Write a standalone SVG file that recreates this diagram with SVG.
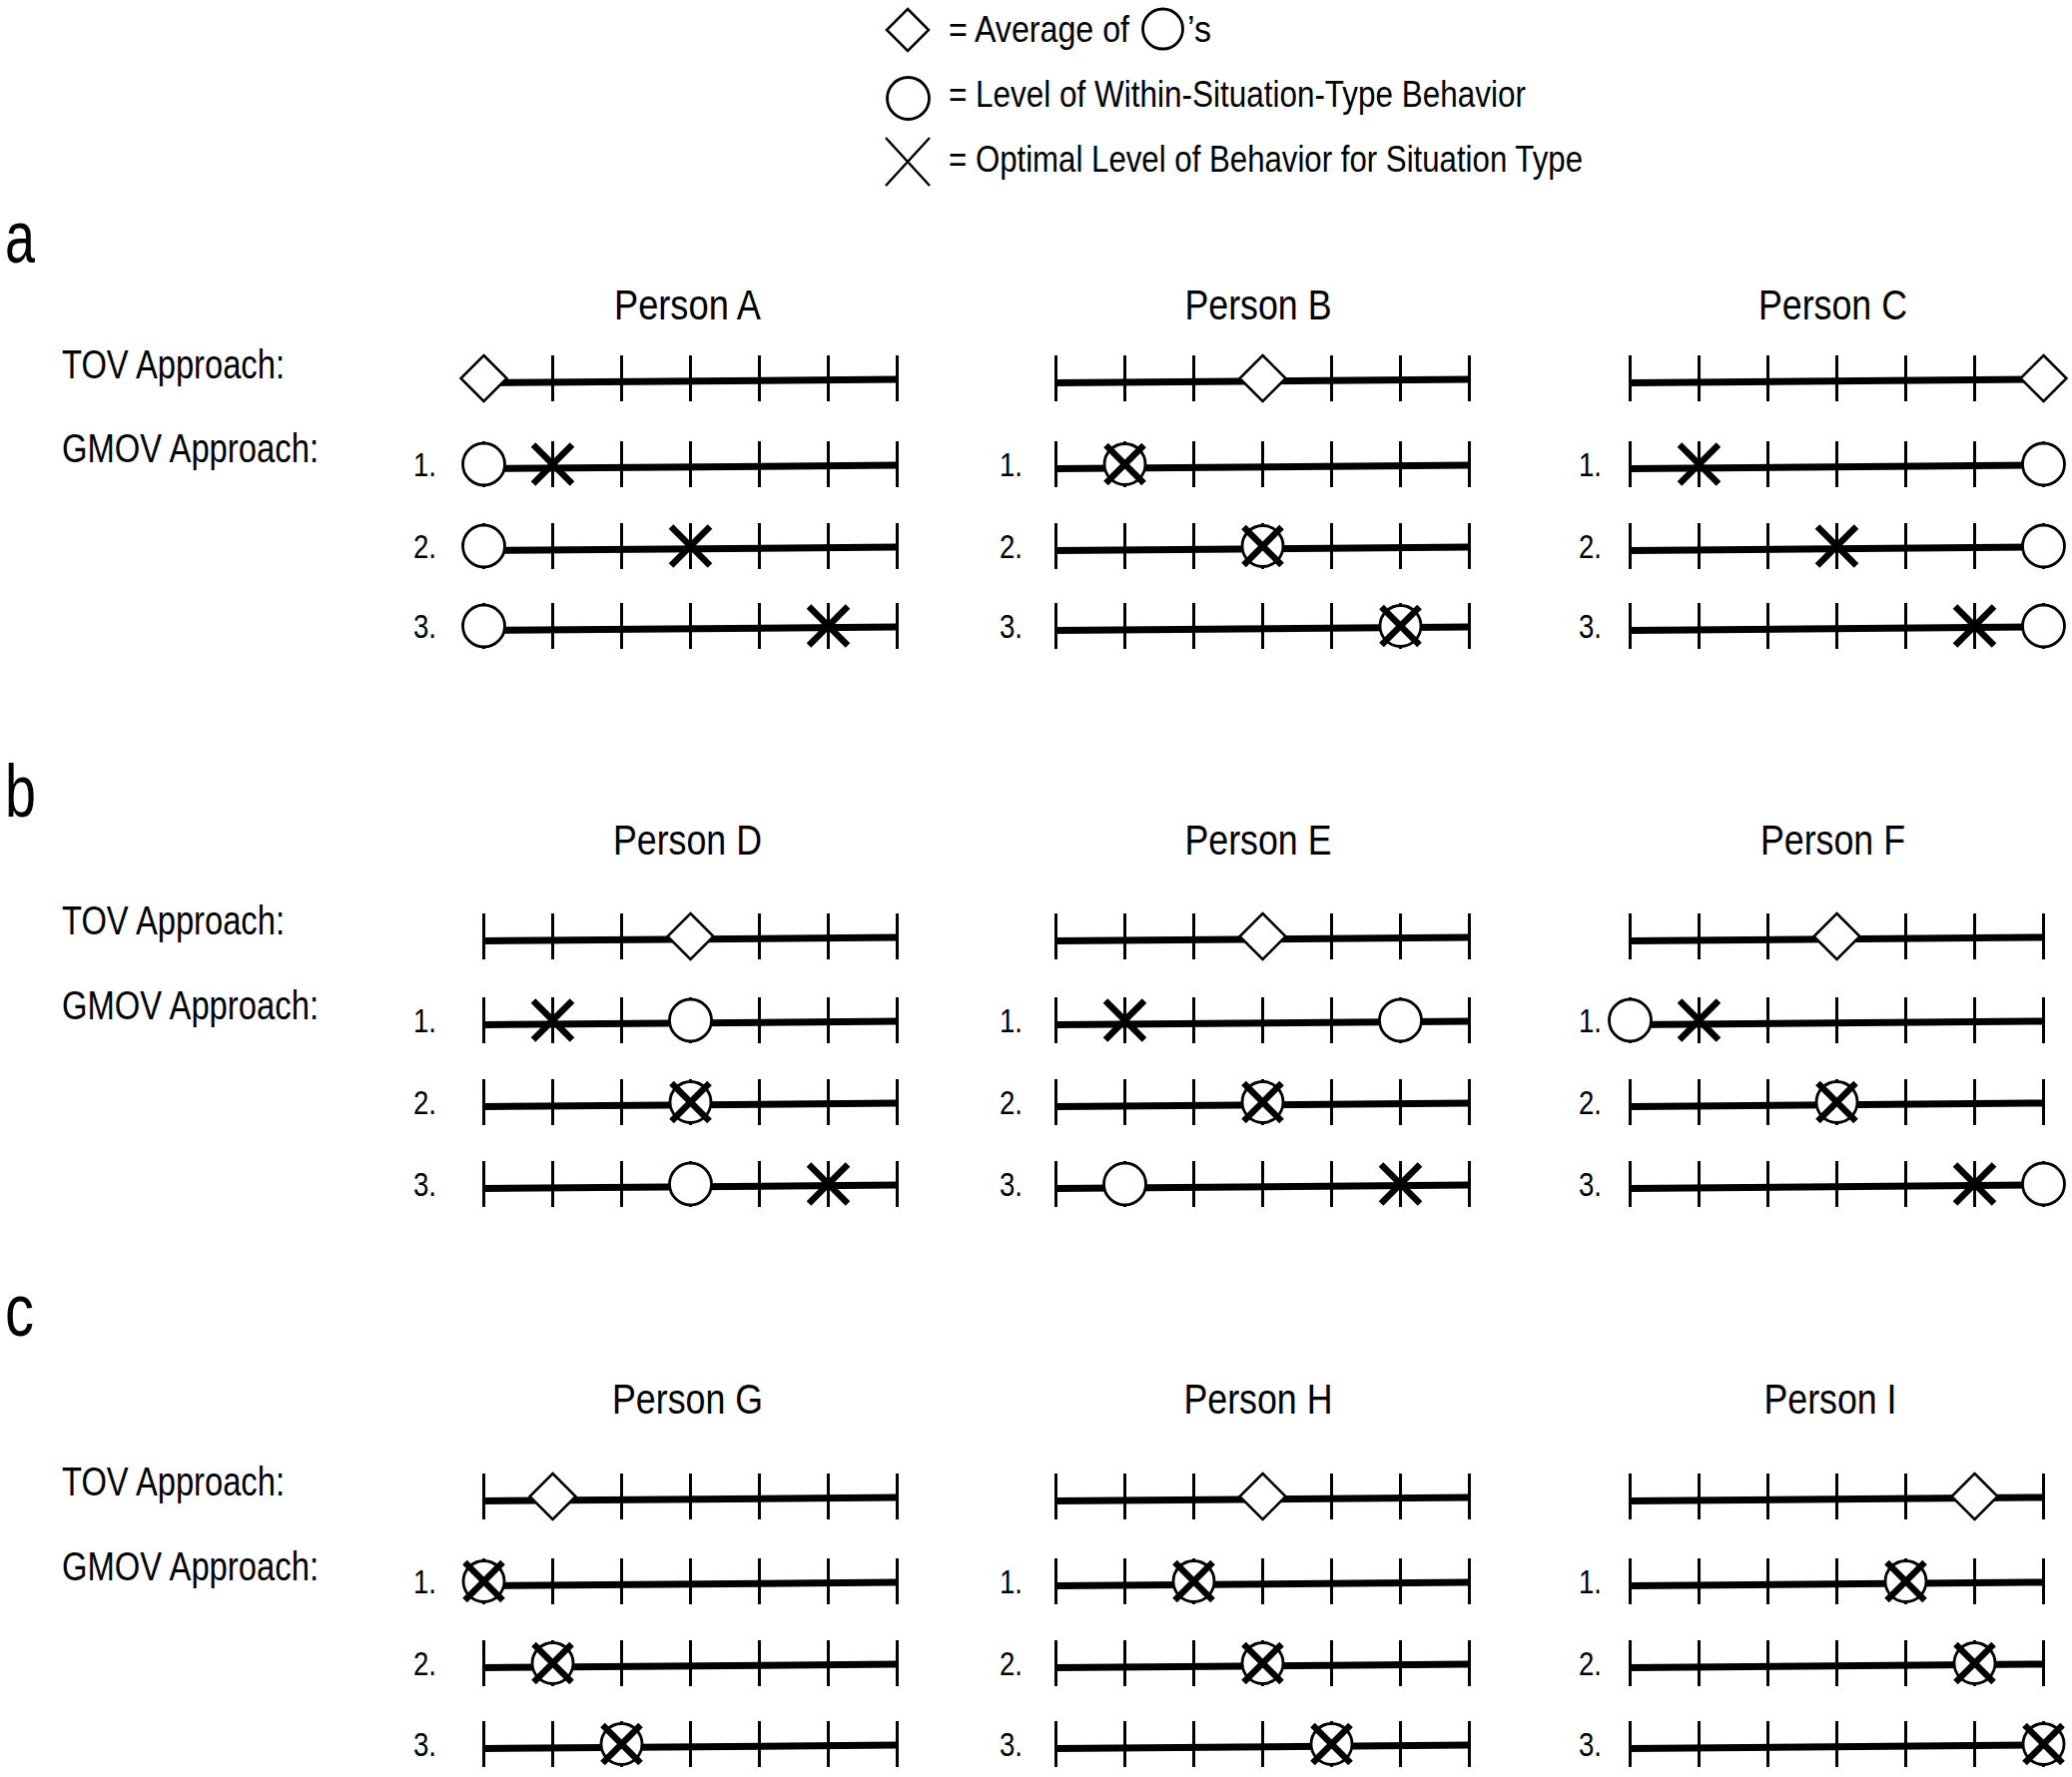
<svg xmlns="http://www.w3.org/2000/svg" xmlns:xlink="http://www.w3.org/1999/xlink" width="2075" height="1780" viewBox="0 0 2075 1780">
<style>
text{font-family:"Liberation Sans Narrow","Liberation Sans",Arial,sans-serif;fill:#000}
.leg{font-size:37.5px}
.ttl{font-size:43px;text-anchor:middle}
.lab{font-size:40px}
.num{font-size:33px}
.sec{font-size:74px}
.axl{fill:none;stroke:#000;stroke-width:7}
.tk{fill:none;stroke:#000;stroke-width:3}
.circ{fill:#fff;stroke:#000;stroke-width:2.8}
.dia{fill:#fff;stroke:#000;stroke-width:2.5}
.xm{fill:none;stroke:#000;stroke-width:6.5}
.xl{fill:none;stroke:#000;stroke-width:2.5}
</style>
<defs>
<g id="axis">
<path class="axl" d="M0,4.5 L414,1"/>
<path class="tk" d="M0,-23V23M69,-23V23M138,-23V23M207,-23V23M276,-23V23M345,-23V23M414,-23V23"/>
</g>
<circle id="C" class="circ" r="21"/>
<polygon id="D" class="dia" points="0,-23 23,0 0,23 -23,0"/>
<path id="X" class="xm" d="M-19.5,-19.5L19.5,19.5M19.5,-19.5L-19.5,19.5"/>
<g id="CX"><circle class="circ" r="20.5"/><path class="xm" d="M-19,-19L19,19M19,-19L-19,19"/></g>
</defs>

<g id="legend">
<polygon class="dia" points="909,9 930,30 909,51 888,30"/>
<text class="leg" x="950" y="42" textLength="181" lengthAdjust="spacingAndGlyphs">= Average of</text>
<circle class="circ" cx="1164.5" cy="29" r="20"/>
<text class="leg" x="1189" y="42" textLength="24" lengthAdjust="spacingAndGlyphs">’s</text>
<circle class="circ" cx="909.5" cy="98.5" r="21"/>
<text class="leg" x="950" y="107" textLength="578" lengthAdjust="spacingAndGlyphs">= Level of Within-Situation-Type Behavior</text>
<path class="xl" d="M887,138L931,186M931,138L887,186"/>
<text class="leg" x="950" y="172" textLength="635" lengthAdjust="spacingAndGlyphs">= Optimal Level of Behavior for Situation Type</text>
</g>

<g id="section-labels">
<text class="sec" x="5" y="263" textLength="30" lengthAdjust="spacingAndGlyphs">a</text>
<text class="sec" x="5" y="818" textLength="31" lengthAdjust="spacingAndGlyphs">b</text>
<text class="sec" x="5" y="1338" textLength="29" lengthAdjust="spacingAndGlyphs">c</text>
<text class="lab" x="62" y="379" textLength="223" lengthAdjust="spacingAndGlyphs">TOV Approach:</text>
<text class="lab" x="62" y="463" textLength="257" lengthAdjust="spacingAndGlyphs">GMOV Approach:</text>
<text class="lab" x="62" y="936" textLength="223" lengthAdjust="spacingAndGlyphs">TOV Approach:</text>
<text class="lab" x="62" y="1021" textLength="257" lengthAdjust="spacingAndGlyphs">GMOV Approach:</text>
<text class="lab" x="62" y="1498" textLength="223" lengthAdjust="spacingAndGlyphs">TOV Approach:</text>
<text class="lab" x="62" y="1583" textLength="257" lengthAdjust="spacingAndGlyphs">GMOV Approach:</text>
</g>

<!-- Section a -->
<g id="personA">
<text class="ttl" x="688.5" y="320" textLength="147" lengthAdjust="spacingAndGlyphs">Person A</text>
<use xlink:href="#axis" x="484.5" y="379"/>
<use xlink:href="#axis" x="484.5" y="465"/>
<use xlink:href="#axis" x="484.5" y="547"/>
<use xlink:href="#axis" x="484.5" y="627"/>
<text class="num" x="414" y="477" textLength="23" lengthAdjust="spacingAndGlyphs">1.</text>
<text class="num" x="414" y="559" textLength="23" lengthAdjust="spacingAndGlyphs">2.</text>
<text class="num" x="414" y="639" textLength="23" lengthAdjust="spacingAndGlyphs">3.</text>
<use xlink:href="#D" x="484.5" y="379"/>
<use xlink:href="#C" x="484.5" y="465"/><use xlink:href="#X" x="553.5" y="465"/>
<use xlink:href="#C" x="484.5" y="547"/><use xlink:href="#X" x="691.5" y="547"/>
<use xlink:href="#C" x="484.5" y="627"/><use xlink:href="#X" x="829.5" y="627"/>
</g>
<g id="personB">
<text class="ttl" x="1260" y="320" textLength="147" lengthAdjust="spacingAndGlyphs">Person B</text>
<use xlink:href="#axis" x="1057.5" y="379"/>
<use xlink:href="#axis" x="1057.5" y="465"/>
<use xlink:href="#axis" x="1057.5" y="547"/>
<use xlink:href="#axis" x="1057.5" y="627"/>
<text class="num" x="1001" y="477" textLength="23" lengthAdjust="spacingAndGlyphs">1.</text>
<text class="num" x="1001" y="559" textLength="23" lengthAdjust="spacingAndGlyphs">2.</text>
<text class="num" x="1001" y="639" textLength="23" lengthAdjust="spacingAndGlyphs">3.</text>
<use xlink:href="#D" x="1264.5" y="379"/>
<use xlink:href="#CX" x="1126.5" y="465"/>
<use xlink:href="#CX" x="1264.5" y="547"/>
<use xlink:href="#CX" x="1402.5" y="627"/>
</g>
<g id="personC">
<text class="ttl" x="1835.5" y="320" textLength="149" lengthAdjust="spacingAndGlyphs">Person C</text>
<use xlink:href="#axis" x="1632.5" y="379"/>
<use xlink:href="#axis" x="1632.5" y="465"/>
<use xlink:href="#axis" x="1632.5" y="547"/>
<use xlink:href="#axis" x="1632.5" y="627"/>
<text class="num" x="1581" y="477" textLength="23" lengthAdjust="spacingAndGlyphs">1.</text>
<text class="num" x="1581" y="559" textLength="23" lengthAdjust="spacingAndGlyphs">2.</text>
<text class="num" x="1581" y="639" textLength="23" lengthAdjust="spacingAndGlyphs">3.</text>
<use xlink:href="#D" x="2046.5" y="379"/>
<use xlink:href="#X" x="1701.5" y="465"/><use xlink:href="#C" x="2046.5" y="465"/>
<use xlink:href="#X" x="1839.5" y="547"/><use xlink:href="#C" x="2046.5" y="547"/>
<use xlink:href="#X" x="1977.5" y="627"/><use xlink:href="#C" x="2046.5" y="627"/>
</g>

<!-- Section b -->
<g id="personD">
<text class="ttl" x="688.5" y="856" textLength="149" lengthAdjust="spacingAndGlyphs">Person D</text>
<use xlink:href="#axis" x="484.5" y="938"/>
<use xlink:href="#axis" x="484.5" y="1022"/>
<use xlink:href="#axis" x="484.5" y="1104"/>
<use xlink:href="#axis" x="484.5" y="1186"/>
<text class="num" x="414" y="1034" textLength="23" lengthAdjust="spacingAndGlyphs">1.</text>
<text class="num" x="414" y="1116" textLength="23" lengthAdjust="spacingAndGlyphs">2.</text>
<text class="num" x="414" y="1198" textLength="23" lengthAdjust="spacingAndGlyphs">3.</text>
<use xlink:href="#D" x="691.5" y="938"/>
<use xlink:href="#X" x="553.5" y="1022"/><use xlink:href="#C" x="691.5" y="1022"/>
<use xlink:href="#CX" x="691.5" y="1104"/>
<use xlink:href="#C" x="691.5" y="1186"/><use xlink:href="#X" x="829.5" y="1186"/>
</g>
<g id="personE">
<text class="ttl" x="1260" y="856" textLength="147" lengthAdjust="spacingAndGlyphs">Person E</text>
<use xlink:href="#axis" x="1057.5" y="938"/>
<use xlink:href="#axis" x="1057.5" y="1022"/>
<use xlink:href="#axis" x="1057.5" y="1104"/>
<use xlink:href="#axis" x="1057.5" y="1186"/>
<text class="num" x="1001" y="1034" textLength="23" lengthAdjust="spacingAndGlyphs">1.</text>
<text class="num" x="1001" y="1116" textLength="23" lengthAdjust="spacingAndGlyphs">2.</text>
<text class="num" x="1001" y="1198" textLength="23" lengthAdjust="spacingAndGlyphs">3.</text>
<use xlink:href="#D" x="1264.5" y="938"/>
<use xlink:href="#X" x="1126.5" y="1022"/><use xlink:href="#C" x="1402.5" y="1022"/>
<use xlink:href="#CX" x="1264.5" y="1104"/>
<use xlink:href="#C" x="1126.5" y="1186"/><use xlink:href="#X" x="1402.5" y="1186"/>
</g>
<g id="personF">
<text class="ttl" x="1835.5" y="856" textLength="145" lengthAdjust="spacingAndGlyphs">Person F</text>
<use xlink:href="#axis" x="1632.5" y="938"/>
<use xlink:href="#axis" x="1632.5" y="1022"/>
<use xlink:href="#axis" x="1632.5" y="1104"/>
<use xlink:href="#axis" x="1632.5" y="1186"/>
<text class="num" x="1581" y="1034" textLength="23" lengthAdjust="spacingAndGlyphs">1.</text>
<text class="num" x="1581" y="1116" textLength="23" lengthAdjust="spacingAndGlyphs">2.</text>
<text class="num" x="1581" y="1198" textLength="23" lengthAdjust="spacingAndGlyphs">3.</text>
<use xlink:href="#D" x="1839.5" y="938"/>
<use xlink:href="#C" x="1632.5" y="1022"/><use xlink:href="#X" x="1701.5" y="1022"/>
<use xlink:href="#CX" x="1839.5" y="1104"/>
<use xlink:href="#X" x="1977.5" y="1186"/><use xlink:href="#C" x="2046.5" y="1186"/>
</g>

<!-- Section c -->
<g id="personG">
<text class="ttl" x="688.5" y="1416" textLength="151" lengthAdjust="spacingAndGlyphs">Person G</text>
<use xlink:href="#axis" x="484.5" y="1499"/>
<use xlink:href="#axis" x="484.5" y="1584"/>
<use xlink:href="#axis" x="484.5" y="1666"/>
<use xlink:href="#axis" x="484.5" y="1747"/>
<text class="num" x="414" y="1596" textLength="23" lengthAdjust="spacingAndGlyphs">1.</text>
<text class="num" x="414" y="1678" textLength="23" lengthAdjust="spacingAndGlyphs">2.</text>
<text class="num" x="414" y="1759" textLength="23" lengthAdjust="spacingAndGlyphs">3.</text>
<use xlink:href="#D" x="553.5" y="1499"/>
<use xlink:href="#CX" x="484.5" y="1584"/>
<use xlink:href="#CX" x="553.5" y="1666"/>
<use xlink:href="#CX" x="622.5" y="1747"/>
</g>
<g id="personH">
<text class="ttl" x="1260" y="1416" textLength="149" lengthAdjust="spacingAndGlyphs">Person H</text>
<use xlink:href="#axis" x="1057.5" y="1499"/>
<use xlink:href="#axis" x="1057.5" y="1584"/>
<use xlink:href="#axis" x="1057.5" y="1666"/>
<use xlink:href="#axis" x="1057.5" y="1747"/>
<text class="num" x="1001" y="1596" textLength="23" lengthAdjust="spacingAndGlyphs">1.</text>
<text class="num" x="1001" y="1678" textLength="23" lengthAdjust="spacingAndGlyphs">2.</text>
<text class="num" x="1001" y="1759" textLength="23" lengthAdjust="spacingAndGlyphs">3.</text>
<use xlink:href="#D" x="1264.5" y="1499"/>
<use xlink:href="#CX" x="1195.5" y="1584"/>
<use xlink:href="#CX" x="1264.5" y="1666"/>
<use xlink:href="#CX" x="1333.5" y="1747"/>
</g>
<g id="personI">
<text class="ttl" x="1833" y="1416" textLength="133" lengthAdjust="spacingAndGlyphs">Person I</text>
<use xlink:href="#axis" x="1632.5" y="1499"/>
<use xlink:href="#axis" x="1632.5" y="1584"/>
<use xlink:href="#axis" x="1632.5" y="1666"/>
<use xlink:href="#axis" x="1632.5" y="1747"/>
<text class="num" x="1581" y="1596" textLength="23" lengthAdjust="spacingAndGlyphs">1.</text>
<text class="num" x="1581" y="1678" textLength="23" lengthAdjust="spacingAndGlyphs">2.</text>
<text class="num" x="1581" y="1759" textLength="23" lengthAdjust="spacingAndGlyphs">3.</text>
<use xlink:href="#D" x="1977.5" y="1499"/>
<use xlink:href="#CX" x="1908.5" y="1584"/>
<use xlink:href="#CX" x="1977.5" y="1666"/>
<use xlink:href="#CX" x="2046.5" y="1747"/>
</g>
<g id="connectors"/>
</svg>
